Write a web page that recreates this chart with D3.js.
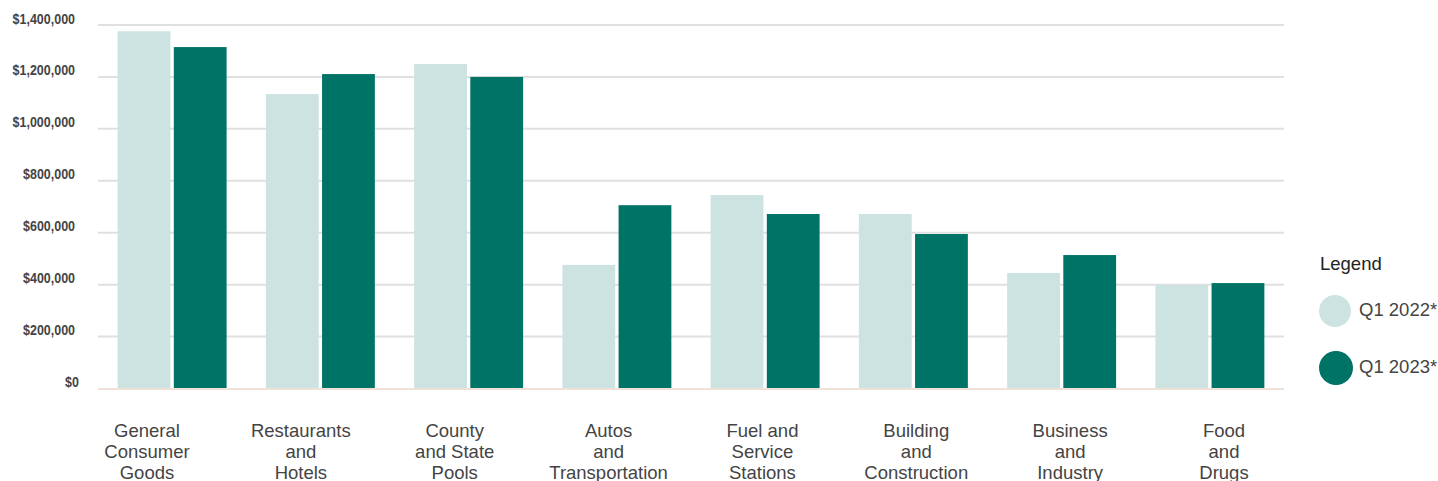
<!DOCTYPE html>
<html>
<meta charset="utf-8">
<head>
<style>
  body { margin: 0; background: #fff; }
  svg { font-family: "Liberation Sans", Arial, sans-serif; }
</style>
</head>
<body>
<script src="https://d3js.org/d3.v7.min.js"></script>
<script>
// categories and values
var categories = [
  ["General", "Consumer", "Goods"],
  ["Restaurants", "and", "Hotels"],
  ["County", "and State", "Pools"],
  ["Autos", "and", "Transportation"],
  ["Fuel and", "Service", "Stations"],
  ["Building", "and", "Construction"],
  ["Business", "and", "Industry"],
  ["Food", "and", "Drugs"]
];
var seriesNames = ["Q1 2022*", "Q1 2023*"];
var q1_2022 = [1376000, 1134000, 1250000, 476000, 745000, 672000, 445000, 399000];
var q1_2023 = [1315000, 1211000, 1200000, 706000, 672000, 595000, 514000, 406000];
var yTicks = [0, 200000, 400000, 600000, 800000, 1000000, 1200000, 1400000];
var colors = ["#cde3e1", "#007367"];

var width = 1438, height = 481;
var svg = d3.select("body").append("svg")
  .attr("width", width).attr("height", height);

var plotLeft = 98, plotRight = 1284, plotTop = 25, plotBottom = 388.5;

var y = d3.scaleLinear().domain([0, 1400000]).range([plotBottom, plotTop]);
var x0 = d3.scaleBand().domain(d3.range(categories.length))
  .range([plotLeft, plotRight]).paddingInner(0.265).paddingOuter(0.1325);
var x1 = d3.scaleBand().domain([0, 1]).range([0, x0.bandwidth()]).paddingInner(0.06);
// the labels sit on their own spacing, not centred under the bars
var xLab = d3.scalePoint().domain(d3.range(categories.length)).range([147, 1224]);

// gridlines
svg.append("g").selectAll("line")
  .data(yTicks.filter(d => d > 0))
  .join("line")
  .attr("x1", plotLeft).attr("x2", plotRight)
  .attr("y1", d => y(d)).attr("y2", d => y(d))
  .attr("stroke", "#e0e0e0").attr("stroke-width", 2);

// y labels (narrow bold look: squeeze horizontally)
svg.append("g").selectAll("text")
  .data(yTicks)
  .join("text")
  .attr("transform", d => "translate(" + (d === 0 ? 79 : 75) + "," + (y(d) - 1.5) + ") scale(0.86,1)")
  .attr("text-anchor", "end")
  .attr("font-size", "14.5px")
  .attr("font-weight", "bold")
  .attr("fill", "#444")
  .text(d => d3.format("$,")(d));

// bars
var series = [q1_2022, q1_2023];
var groups = svg.append("g").selectAll("g")
  .data(categories.map((c, i) => i))
  .join("g")
  .attr("transform", i => "translate(" + x0(i) + ",0)");

groups.selectAll("rect")
  .data(i => series.map((s, k) => ({ k: k, v: s[i] })))
  .join("rect")
  .attr("x", d => x1(d.k))
  .attr("width", x1.bandwidth())
  .attr("y", d => y(d.v))
  .attr("height", d => plotBottom - y(d.v))
  .attr("fill", d => colors[d.k]);

// baseline
svg.append("line")
  .attr("x1", plotLeft).attr("x2", plotRight)
  .attr("y1", plotBottom + 0.5).attr("y2", plotBottom + 0.5)
  .attr("stroke", "#f0e2d8").attr("stroke-width", 2);

// x labels
var xl = svg.append("g").selectAll("text")
  .data(categories)
  .join("text")
  .attr("x", (d, i) => xLab(i))
  .attr("y", 437)
  .attr("text-anchor", "middle")
  .attr("font-size", "18.5px")
  .attr("fill", "#444");
xl.selectAll("tspan")
  .data(d => d)
  .join("tspan")
  .attr("x", function () { return d3.select(this.parentNode).attr("x"); })
  .attr("dy", (d, i) => i === 0 ? 0 : 21)
  .text(d => d);

// legend
var lg = svg.append("g");
lg.append("text").attr("x", 1320).attr("y", 270)
  .attr("font-size", "18.5px").attr("fill", "#222").text("Legend");
var items = lg.selectAll("g.item")
  .data(seriesNames)
  .join("g").attr("class", "item")
  .attr("transform", (d, i) => "translate(0," + (i * 57) + ")");
items.append("circle")
  .attr("cx", (d, i) => 1335 + i)
  .attr("cy", 311)
  .attr("r", (d, i) => 16 + i)
  .attr("fill", (d, i) => colors[i]);
items.append("text")
  .attr("x", 1359).attr("y", 315.5)
  .attr("font-size", "18.5px").attr("fill", "#444")
  .text(d => d);
</script>
</body>
</html>
